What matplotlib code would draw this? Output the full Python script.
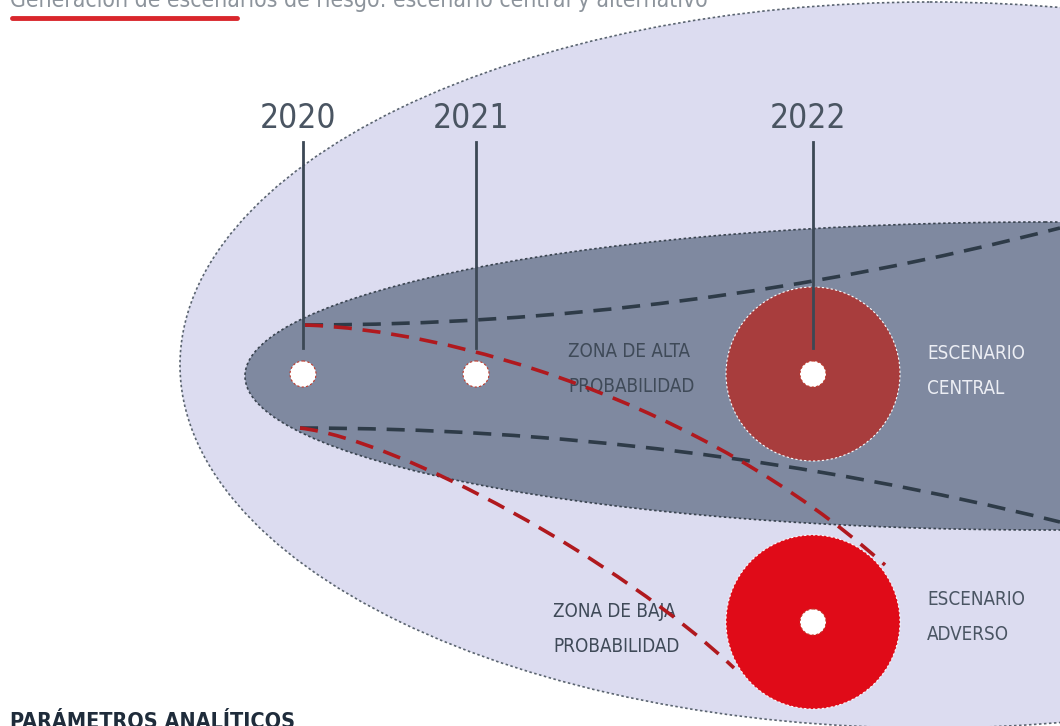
import matplotlib
matplotlib.use('Agg')
import matplotlib.pyplot as plt
from matplotlib.patches import Ellipse, Circle, PathPatch
from matplotlib.path import Path

# diagram content
title = 'Generación de escenarios de riesgo: escenario central y alternativo'
footer = 'PARÁMETROS ANALÍTICOS'
years = ['2020', '2021', '2022']
year_x = [303, 476, 813]
scenario_names = ['ESCENARIO\nCENTRAL', 'ESCENARIO\nADVERSO']
scenario_y = [374, 622]
scenario_colors = ['#a83d3d', '#e00b18']
zone_names = ['ZONA DE ALTA\nPROBABILIDAD', 'ZONA DE BAJA\nPROBABILIDAD']
zone_x = [568, 553]
zone_y = [369, 629]

FONT = dict(family=['DejaVu Sans'], fontstretch='condensed')

fig = plt.figure(figsize=(10.6, 7.26), dpi=100)
ax = fig.add_axes([0, 0, 1, 1])
ax.set_xlim(0, 1060)
ax.set_ylim(726, 0)
ax.axis('off')

# outer (low probability) and inner (high probability) zones
ax.add_patch(Ellipse((930, 365), 1500, 726, facecolor='#dcdcf0',
                     edgecolor='#5a6470', lw=1.2, ls=(0, (1.5, 1.5)), zorder=1))
ax.add_patch(Ellipse((1045, 376), 1600, 308, facecolor='#7f89a0',
                     edgecolor='#3a4450', lw=1.2, ls=(0, (1.5, 1.5)), zorder=2))


def bezier(points, **kw):
    codes = [Path.MOVETO] + [Path.CURVE4] * 3 if len(points) == 4 else \
        [Path.MOVETO] + [Path.CURVE3] * 2
    ax.add_patch(PathPatch(Path(points, codes), fill=False, **kw))


# dark dashed cone (central scenario band)
dark = dict(edgecolor='#2e3b48', lw=2.6, ls=(0, (5, 3)), zorder=3, capstyle='butt')
bezier([(305, 325), (682, 325), (1060, 228)], **dark)
bezier([(300, 428), (680, 428), (1060, 522)], **dark)

# red dashed paths towards the adverse scenario
red = dict(edgecolor='#b0191e', lw=2.6, ls=(0, (5, 3)), zorder=6, capstyle='butt')
bezier([(305, 325), (450, 330), (700, 400), (885, 565)], **red)
bezier([(300, 428), (400, 440), (620, 560), (734, 668)], **red)

# year markers
for yr, x in zip(years, year_x):
    ax.text(x - 5, 119, yr, ha='center', va='center', fontsize=24,
            color='#4a5562', zorder=8, **FONT)
    ax.plot([x, x], [142, 348], color='#3c4855', lw=2, zorder=7)

# scenario circles
for y, c in zip(scenario_y, scenario_colors):
    ax.add_patch(Circle((813, y), 87, facecolor=c, edgecolor='white',
                        lw=0.8, ls=(0, (2, 2)), zorder=4))
for x, y in [(303, 374), (476, 374), (813, 374), (813, 622)]:
    ax.add_patch(Circle((x, y), 13, facecolor='white', edgecolor='#c0392b',
                        lw=0.8, ls=(0, (2, 2)), zorder=9))

# labels
for name, y, c in zip(scenario_names, [371, 617], ['#eceef4', '#4a5563']):
    ax.text(927, y, name, ha='left', va='center', fontsize=13.5,
            color=c, linespacing=2.05, zorder=8, **FONT)
for name, x, y in zip(zone_names, zone_x, zone_y):
    ax.text(x, y, name, ha='left', va='center', fontsize=13.5,
            color='#3f4a58', linespacing=2.05, zorder=5, **FONT)

ax.text(10, 7, title, ha='left', va='baseline', fontsize=16.5,
        color='#8d949c', **FONT)
ax.plot([12, 237], [18, 18], color='#d9262c', lw=3.5, solid_capstyle='round')
ax.text(10, 728, footer, ha='left', va='baseline', fontsize=15.5,
        color='#1f2c3b', fontweight='bold', **FONT)

fig.savefig('out.png', dpi=100)
